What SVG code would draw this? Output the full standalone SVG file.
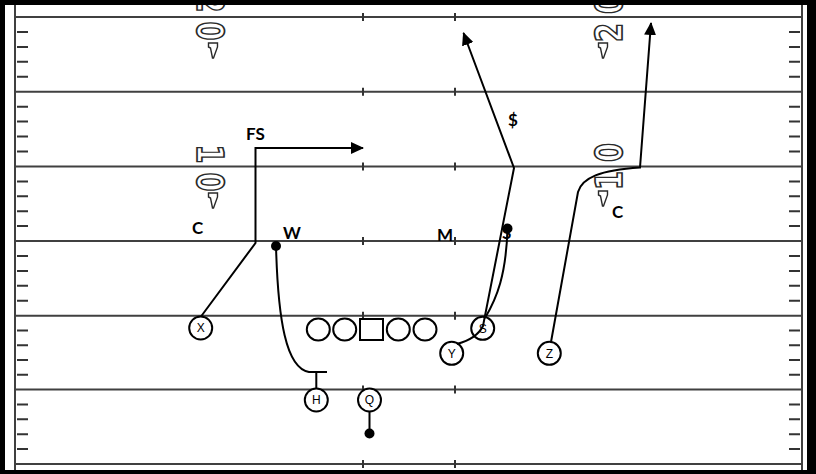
<svg xmlns="http://www.w3.org/2000/svg" width="816" height="474" viewBox="0 0 816 474">
<style>
.fl{stroke:#404040;stroke-width:2;fill:none}
.tk{stroke:#333;stroke-width:2;fill:none}
.num{font-family:"DejaVu Sans",sans-serif;font-weight:bold;font-size:38px;fill:#fff;stroke:#2a2a2a;stroke-width:1.7;text-anchor:middle}
.pen{fill:#fff;stroke:#2a2a2a;stroke-width:1.4}
.pl{fill:#fff;stroke:#000;stroke-width:2}
.pt{font-family:"Liberation Sans",Arial,sans-serif;font-size:12px;text-anchor:middle;fill:#000}
.lb{font-family:Lato,"Liberation Sans",sans-serif;font-weight:bold;font-size:17px;fill:#000}
.rt{fill:none;stroke:#000;stroke-width:2}
.dot{fill:#000}
</style>
<defs>
<marker id="ah" markerWidth="13" markerHeight="12" refX="12" refY="6" orient="auto" markerUnits="userSpaceOnUse"><path d="M0,0 L13,6 L0,12 z" fill="#000"/></marker>
<path id="pn" d="M-4.5,0 H4.5 V4 L0.5,15 L-0.5,15 L-2.5,5 L-4.5,4 Z"/>
</defs>
<rect width="816" height="474" fill="#fff"/>
<g id="field">
<path class="fl" d="M15,17 H802 M15,91.7 H802 M15,166.5 H802 M15,241 H802 M15,315.7 H802 M15,389.5 H802 M15,464 H802 M15,5 V470 M802,5 V470"/>
<path class="tk" d="M17,31.9H28M17,46.9H28M17,61.8H28M17,76.8H28M17,106.7H28M17,121.6H28M17,136.6H28M17,151.5H28M17,181.4H28M17,196.3H28M17,211.2H28M17,226.1H28M17,255.9H28M17,270.9H28M17,285.8H28M17,300.8H28M17,330.5H28M17,345.2H28M17,360H28M17,374.8H28M17,404.4H28M17,419.3H28M17,434.2H28M17,449.1H28
M789,31.9H800M789,46.9H800M789,61.8H800M789,76.8H800M789,106.7H800M789,121.6H800M789,136.6H800M789,151.5H800M789,181.4H800M789,196.3H800M789,211.2H800M789,226.1H800M789,255.9H800M789,270.9H800M789,285.8H800M789,300.8H800M789,330.5H800M789,345.2H800M789,360H800M789,374.8H800M789,404.4H800M789,419.3H800M789,434.2H800M789,449.1H800
M363,13V21M455,13V21M363,87.7V95.7M455,87.7V95.7M363,162.5V170.5M455,162.5V170.5M363,237V245M455,237V245M363,311.7V319.7M455,311.7V319.7M363,385.5V393.5M455,385.5V393.5M363,460V468M455,460V468"/>
<text class="num" transform="translate(197,3) rotate(90) scale(0.72,1)">2</text>
<text class="num" transform="translate(197,31) rotate(90) scale(0.72,1)">0</text>
<text class="num" transform="translate(197,154) rotate(90) scale(0.72,1)">1</text>
<text class="num" transform="translate(197,182) rotate(90) scale(0.72,1)">0</text>
<text class="num" transform="translate(622,32.5) rotate(-90) scale(0.72,1)">2</text>
<text class="num" transform="translate(622,4.5) rotate(-90) scale(0.72,1)">0</text>
<text class="num" transform="translate(622,180.5) rotate(-90) scale(0.72,1)">1</text>
<text class="num" transform="translate(622,152.5) rotate(-90) scale(0.72,1)">0</text>
<use href="#pn" class="pen" x="213" y="43"/>
<use href="#pn" class="pen" x="213" y="193"/>
<use href="#pn" class="pen" x="603" y="43"/>
<use href="#pn" class="pen" x="603" y="191"/>
</g>
<g id="frame" fill="#000">
<rect x="0" y="0" width="816" height="5"/>
<rect x="0" y="0" width="5" height="474"/>
<rect x="807" y="0" width="9" height="474"/>
<rect x="0" y="470" width="816" height="4"/>
</g>
<g id="labels">
<text class="lb" x="246" y="140">FS</text>
<text class="lb" x="192" y="234">C</text>
<text class="lb" x="283" y="239">W</text>
<text class="lb" x="437" y="240.5">M</text>
<text class="lb" x="508" y="126">$</text>
<text class="lb" x="612" y="218">C</text>
<text class="lb" x="502" y="239">S</text>
</g>
<g id="line">
<ellipse class="pl" cx="318.3" cy="329.5" rx="11.5" ry="11"/>
<ellipse class="pl" cx="344.7" cy="329.5" rx="11.5" ry="11"/>
<rect class="pl" x="360" y="319" width="23" height="21"/>
<ellipse class="pl" cx="398.3" cy="329.5" rx="11.5" ry="11"/>
<ellipse class="pl" cx="425" cy="329.5" rx="11.5" ry="11"/>
</g>
<g id="X"><circle class="pl" cx="200.7" cy="328" r="11.5"/><text class="pt" x="200.7" y="332.3">X</text></g>
<g id="H"><circle class="pl" cx="316.3" cy="400" r="11.5"/><text class="pt" x="316.3" y="404.3">H</text></g>
<g id="Q"><circle class="pl" cx="369.5" cy="400" r="11.5"/><text class="pt" x="369.5" y="404.3">Q</text></g>
<g id="S"><circle class="pl" cx="482.7" cy="328.3" r="11.5"/><text class="pt" x="482.7" y="332.6">S</text></g>
<g id="Y"><circle class="pl" cx="451.7" cy="353.3" r="11.5"/><text class="pt" x="451.7" y="357.6">Y</text></g>
<g id="Z"><circle class="pl" cx="549.3" cy="353.3" r="11.5"/><text class="pt" x="549.3" y="357.6">Z</text></g>
<g id="connectors">
<path class="rt" d="M201,316.5 L255.5,243 V148 H363" marker-end="url(#ah)"/>
<path class="rt" d="M276,246 C278,320 286,368 309,372 M308,372 H327 M316.3,372 V388.5"/>
<path class="rt" d="M369.5,411.5 V433"/>
<path class="rt" d="M457,344 C468,341 478,336 483,326 L514,168 L463.5,33" marker-end="url(#ah)"/>
<path class="rt" d="M485,318 C497,298 506,275 507.5,229"/>
<path class="rt" d="M551,342 L578,192 C582,178 600,170 640,167.5 L651,23" marker-end="url(#ah)"/>
<circle class="dot" cx="276" cy="246" r="5"/>
<circle class="dot" cx="507.5" cy="228.5" r="5"/>
<circle class="dot" cx="369.5" cy="433.5" r="5"/>
</g>
</svg>
